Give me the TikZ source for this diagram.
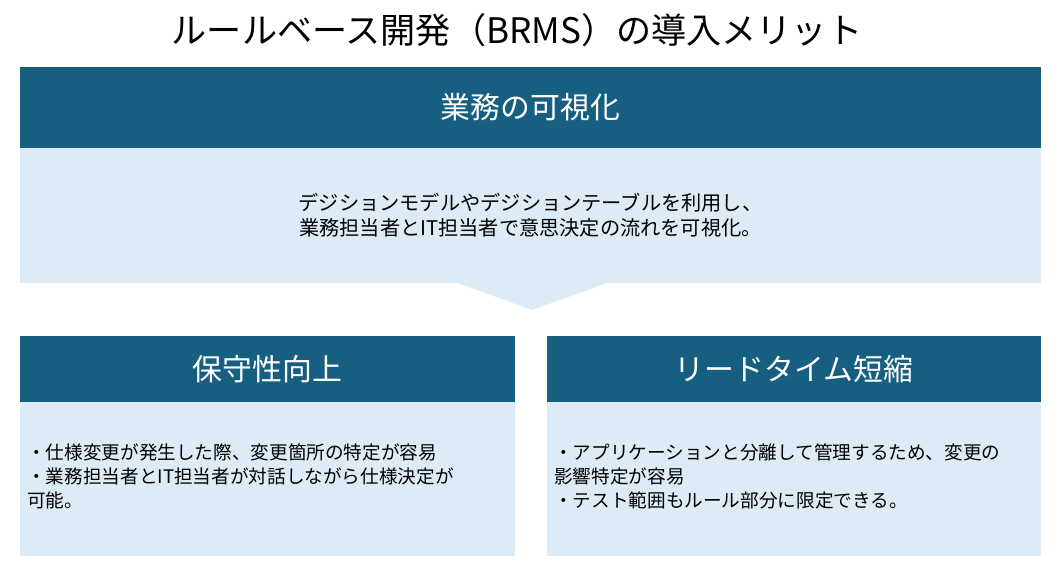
\documentclass[tikz,border=0pt]{standalone}
\usepackage{fontspec}
\setmainfont{Noto Sans CJK JP}
\usetikzlibrary{positioning}
\definecolor{headblue}{HTML}{175F80}
\definecolor{bodyblue}{HTML}{DDEBF7}
\tikzset{
    headbox/.style={fill=headblue, text=white, font=\fontsize{17}{20}\selectfont, inner sep=0pt},
    bodybox/.style={fill=bodyblue, inner sep=0pt},
    bodytext/.style={font=\fontsize{11.5}{14.5}\selectfont, align=center},
    listtext/.style={font=\fontsize{10.6}{13.8}\selectfont, align=left, anchor=north west, inner sep=0pt}
}
\begin{document}
\begin{tikzpicture}[x=0.02cm, y=-0.02cm]
  \useasboundingbox (0,0) rectangle (1061,572);
  \node(T) at (517,30)[font=\fontsize{20}{24}\selectfont]{ルールベース開発（BRMS）の導入メリット};

  \node(VB)[bodybox, minimum width=20.42cm, minimum height=2.7cm] at (530.5,215.5){};
  \fill[bodyblue] (455,282) -- (610,282) -- (532,310) -- cycle;
  \node(VH)[headbox, minimum width=20.42cm, minimum height=1.62cm] at (530.5,107.5){業務の可視化};
  \node(VT)[bodytext] at (530.5,215){デジションモデルやデジションテーブルを利用し、\\業務担当者とIT担当者で意思決定の流れを可視化。};

  \node(MB)[bodybox, minimum width=9.9cm, minimum height=3.08cm] at (267.5,479){};
  \node(MH)[headbox, minimum width=9.9cm, minimum height=1.32cm] at (267.5,369){保守性向上};
  \node(MT)[listtext] at (27,443){・仕様変更が発生した際、変更箇所の特定が容易\\・業務担当者とIT担当者が対話しながら仕様決定が\\可能。};

  \node(LB)[bodybox, minimum width=9.88cm, minimum height=3.08cm] at (794,479){};
  \node(LH)[headbox, minimum width=9.88cm, minimum height=1.32cm] at (794,369){リードタイム短縮};
  \node(LT)[listtext] at (554,443){・アプリケーションと分離して管理するため、変更の\\影響特定が容易\\・テスト範囲もルール部分に限定できる。};
\end{tikzpicture}
\end{document}
